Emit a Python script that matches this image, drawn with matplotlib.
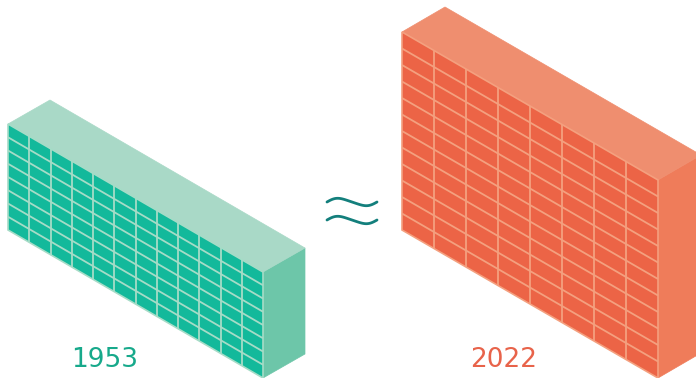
import matplotlib
matplotlib.use("Agg")
import matplotlib.pyplot as plt
from matplotlib.patches import Polygon
import numpy as np

# ---- data ----
years = ["1953", "2022"]
columns = [12, 8]
rows = [8, 12]

# ---- styles ----
palettes = [
    dict(front="#13b99b", top="#a9d9c7", side="#6dc6a9", line="#a6dcc7", label="#17a98b"),
    dict(front="#ec6446", top="#ef8e6f", side="#ef7c5a", line="#f4a07f", label="#e8634a"),
]
# block geometry (pixels): front top-left x, y, front width, front height, slope, depth dx, dy
geoms = [
    dict(x0=8, y0=124, w=255, h=106, slope=148 / 255, dx=42, dy=-24, lx=105, ly=360),
    dict(x0=402, y0=32, w=256, h=198, slope=148 / 256, dx=43, dy=-25, lx=504, ly=360),
]

fig = plt.figure(figsize=(6.96, 3.78), dpi=100)
ax = fig.add_axes([0, 0, 1, 1])
ax.set_xlim(0, 696)
ax.set_ylim(378, 0)
ax.axis("off")


def draw_block(g, ncols, nrows, pal):
    x0, y0, w, h, s, dx, dy = g["x0"], g["y0"], g["w"], g["h"], g["slope"], g["dx"], g["dy"]
    TL = (x0, y0)
    TR = (x0 + w, y0 + w * s)
    BR = (x0 + w, y0 + w * s + h)
    BL = (x0, y0 + h)
    d = lambda p: (p[0] + dx, p[1] + dy)
    side = Polygon([TR, d(TR), d(BR), BR], closed=True, fc=pal["side"], ec=pal["side"], lw=0.5, zorder=1)
    top = Polygon([TL, d(TL), d(TR), TR], closed=True, fc=pal["top"], ec=pal["top"], lw=0.5, zorder=1)
    front = Polygon([TL, TR, BR, BL], closed=True, fc=pal["front"], ec=pal["line"], lw=1.2, zorder=2)
    for p in (side, top, front):
        ax.add_patch(p)
    for i in range(1, ncols):
        x = x0 + w * i / ncols
        yt = y0 + s * (x - x0)
        ax.plot([x, x], [yt, yt + h], color=pal["line"], lw=1.3, zorder=3, solid_capstyle="butt")
    for j in range(1, nrows):
        off = h * j / nrows
        ax.plot([x0, x0 + w], [y0 + off, y0 + w * s + off], color=pal["line"], lw=1.3, zorder=3,
                solid_capstyle="butt")


for yr, nc, nr, g, pal in zip(years, columns, rows, geoms, palettes):
    draw_block(g, nc, nr, pal)
    ax.text(g["lx"], g["ly"], yr, color=pal["label"], fontsize=19, family="DejaVu Sans",
            ha="center", va="center", zorder=4)

# approximately-equal sign (decorative)
t = np.linspace(0, 1, 100)
for yc in (202, 220):
    xs = 327 + 50 * t
    ys = yc - 4.5 * np.sin(2 * np.pi * t) * (0.6 + 0.4 * np.cos(np.pi * t) ** 2)
    ax.plot(xs, ys, color="#137f7c", lw=2.0, solid_capstyle="round", zorder=4)

fig.savefig("out.png", dpi=100)
